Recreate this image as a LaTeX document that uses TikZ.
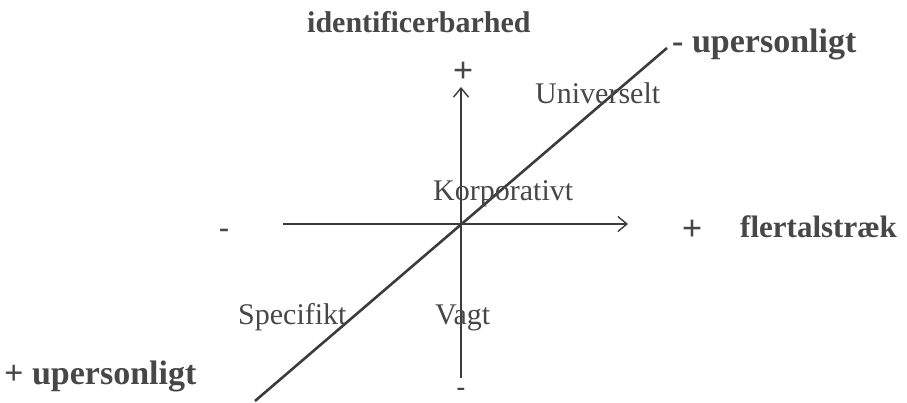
\documentclass[tikz,border=0pt]{standalone}
\usepackage{fontspec}
\setmainfont{Liberation Serif}
\usetikzlibrary{arrows.meta}
\definecolor{ink}{HTML}{3C3C3C}
\definecolor{txt}{HTML}{474747}
\begin{document}
\begin{tikzpicture}[x=1pt,y=-1pt,
  lbl/.style={inner sep=0pt,anchor=base west,text=txt,font=\fontsize{30}{36}\selectfont},
  blbl/.style={inner sep=0pt,anchor=base west,text=txt,font=\fontsize{30}{36}\selectfont\bfseries},
  sgn/.style={inner sep=0pt,anchor=base,text=txt,font=\fontsize{30}{36}\selectfont\bfseries},
  psgn/.style={inner sep=0pt,anchor=center,text=txt,font=\fontsize{36}{40}\selectfont\bfseries},
  axis/.style={draw=ink,line width=1.6pt,-{Straight Barb[length=9pt,width=15pt,line width=1.4pt]}},
  diag/.style={draw=ink,line width=2.6pt}]
\useasboundingbox (0,0) rectangle (907,402);
% axes
\coordinate (o) at (461,224);
\coordinate (xl) at (283,224);
\coordinate (xr) at (628,224);
\coordinate (yb) at (461,378);
\coordinate (yt) at (461,87);
\coordinate (dl) at (255,401);
\coordinate (dr) at (667,48);
\draw[axis] (xl) -- (xr);
\draw[axis] (yb) -- (yt);
\draw[diag] (dl) -- (dr);
% labels
\node[blbl] (id) at (307,32) {identificerbarhed};
\node[blbl,font=\fontsize{34}{40}\selectfont\bfseries] (mu) at (672,52) {- upersonligt};
\node[blbl,font=\fontsize{34}{40}\selectfont\bfseries] (pu) at (4,384) {+ upersonligt};
\node[blbl,font=\fontsize{31}{36}\selectfont\bfseries] (fl) at (740,237) {flertalstræk};
\node[lbl] (un) at (535,103) {Universelt};
\node[lbl] (ko) at (433,200) {Korporativt};
\node[lbl] (sp) at (238,324) {Specifikt};
\node[lbl] (va) at (435,324) {Vagt};
\node[psgn] (pt) at (463,72) {+};
\node[sgn,font=\fontsize{26}{30}\selectfont\bfseries] (mb) at (461,395) {-};
\node[sgn] (ml) at (224,237) {-};
\node[psgn] (pr) at (692,230) {+};
\end{tikzpicture}
\end{document}
